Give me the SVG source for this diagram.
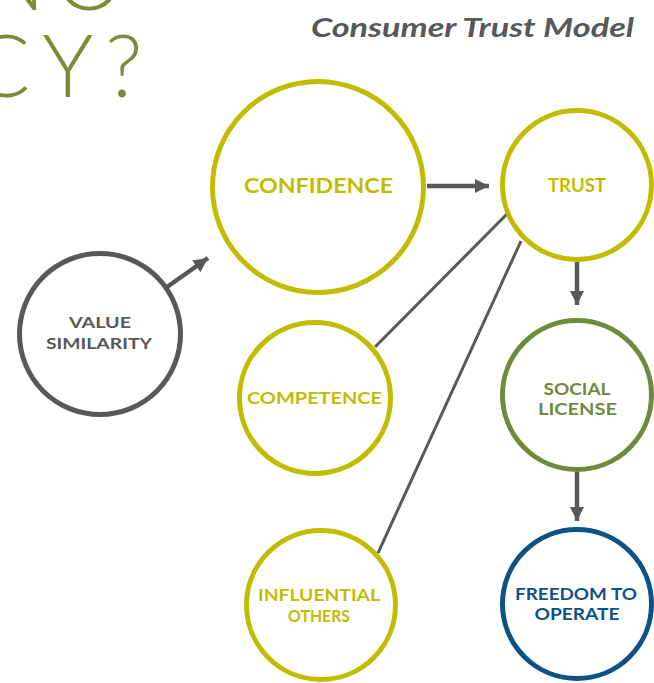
<svg xmlns="http://www.w3.org/2000/svg" width="654" height="683" viewBox="0 0 654 683">
<defs>
<style>
.bg{fill:#ffffff}
.node{fill:#ffffff;stroke-width:5}
.yel{stroke:#c3bb00}
.yelt{fill:#c3bb00}
.grn{stroke:#6f8a3b}
.grnt{fill:#6f8a3b}
.blu{stroke:#0c5287}
.blut{fill:#0c5287}
.gry{stroke:#58585a}
.gryt{fill:#58585a}
.lbl{font-family:Lato,"Liberation Sans",sans-serif;font-weight:700;text-anchor:middle}
.conn{stroke:#58585a;fill:none}
.big{font-family:Lato,"Open Sans",sans-serif;font-weight:300;fill:#7a8c3a;font-size:86px}
</style>
<marker id="ah" viewBox="0 0 10 10" refX="10" refY="5" markerWidth="3.2" markerHeight="3.2" markerUnits="strokeWidth" orient="auto">
<path d="M0,0 L10,5 L0,10 z" fill="#58585a"/>
</marker>
</defs>
<rect class="bg" x="0" y="0" width="654" height="683"/>
<text class="big" x="-20" y="10" letter-spacing="10">NO</text>
<text class="big" x="-28" y="97" letter-spacing="12">CY?</text>
<text x="634" y="37" text-anchor="end" font-family="Lato,'Open Sans',sans-serif" font-style="italic" font-weight="700" font-size="27" fill="#58585a" textLength="323" lengthAdjust="spacingAndGlyphs">Consumer Trust Model</text>
<g id="connectors">
<line class="conn" x1="167" y1="287" x2="208" y2="258" stroke-width="4.5" marker-end="url(#ah)"/>
<line class="conn" x1="427" y1="186" x2="489" y2="186" stroke-width="4.5" marker-end="url(#ah)"/>
<line class="conn" x1="577" y1="262" x2="577" y2="305" stroke-width="4.5" marker-end="url(#ah)"/>
<line class="conn" x1="577" y1="472" x2="577" y2="521" stroke-width="4.5" marker-end="url(#ah)"/>
<line class="conn" x1="375" y1="347" x2="507" y2="214" stroke-width="3"/>
<line class="conn" x1="378" y1="553" x2="521" y2="241" stroke-width="3"/>
</g>
<g id="value-similarity">
<circle class="node gry" cx="100" cy="334" r="80.5"/>
<text class="lbl gryt" font-size="16" x="100" y="328" textLength="62" lengthAdjust="spacingAndGlyphs">VALUE</text>
<text class="lbl gryt" font-size="16" x="99" y="349" textLength="106" lengthAdjust="spacingAndGlyphs">SIMILARITY</text>
</g>
<g id="confidence">
<circle class="node yel" cx="318" cy="187" r="105.5"/>
<text class="lbl yelt" font-size="20" x="318.5" y="193" textLength="149" lengthAdjust="spacingAndGlyphs">CONFIDENCE</text>
</g>
<g id="trust">
<circle class="node yel" cx="577" cy="185" r="74.5"/>
<text class="lbl yelt" font-size="18" x="577" y="192" textLength="58" lengthAdjust="spacingAndGlyphs">TRUST</text>
</g>
<g id="competence">
<circle class="node yel" cx="315" cy="398" r="75.5"/>
<text class="lbl yelt" font-size="17" x="314.5" y="404" textLength="135" lengthAdjust="spacingAndGlyphs">COMPETENCE</text>
</g>
<g id="social-license">
<circle class="node grn" cx="577" cy="395" r="74.5"/>
<text class="lbl grnt" font-size="17" x="577" y="395" textLength="67" lengthAdjust="spacingAndGlyphs">SOCIAL</text>
<text class="lbl grnt" font-size="17" x="577.5" y="415" textLength="79" lengthAdjust="spacingAndGlyphs">LICENSE</text>
</g>
<g id="influential-others">
<circle class="node yel" cx="321" cy="605" r="74.5"/>
<text class="lbl yelt" font-size="17" x="319" y="601" textLength="122" lengthAdjust="spacingAndGlyphs">INFLUENTIAL</text>
<text class="lbl yelt" font-size="17" x="319" y="622" textLength="62" lengthAdjust="spacingAndGlyphs">OTHERS</text>
</g>
<g id="freedom-to-operate">
<circle class="node blu" cx="577" cy="604" r="74.5"/>
<text class="lbl blut" font-size="17" x="576" y="600" textLength="122" lengthAdjust="spacingAndGlyphs">FREEDOM TO</text>
<text class="lbl blut" font-size="17" x="577" y="620" textLength="85" lengthAdjust="spacingAndGlyphs">OPERATE</text>
</g>
</svg>
